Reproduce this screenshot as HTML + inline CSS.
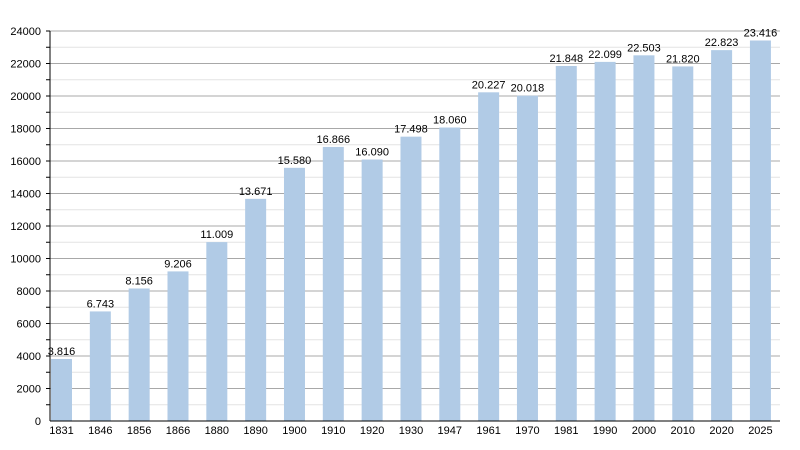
<html><body style="margin:0;background:#fff">
<svg width="800" height="450" xmlns="http://www.w3.org/2000/svg" font-family="Liberation Sans, Arial, sans-serif" font-size="11">
<g id="g"></g>
</svg>
<script>
const vals=[3816,6743,8156,9206,11009,13671,15580,16866,16090,17498,18060,20227,20018,21848,22099,22503,21820,22823,23416];
const yrs=[1831,1846,1856,1866,1880,1890,1900,1910,1920,1930,1947,1961,1970,1981,1990,2000,2010,2020,2025];
let s='';const y=v=>421-v*390/24000;
for(let v=1000;v<=24000;v+=1000){const yy=y(v);
 if(v%2000==0){s+=`<line x1="50" x2="780" y1="${yy}" y2="${yy}" stroke="#a8a8a8" stroke-width="1"/>`;}
 else s+=`<line x1="50" x2="780" y1="${yy}" y2="${yy}" stroke="#e4e4e4" stroke-width="1"/>`;
 s+=`<line x1="46" x2="50" y1="${yy}" y2="${yy}" stroke="#000"/>`;}
for(let v=0;v<=24000;v+=2000)s+=`<text x="41" y="${y(v)+4}" text-anchor="end">${v}</text>`;
vals.forEach((v,i)=>{const x=51+i*38.83;
 s+=`<rect x="${x}" y="${y(v)}" width="21" height="${421-y(v)}" fill="#b1cbe6"/>`;
 s+=`<text x="${x+10.5}" y="${y(v)-4}" text-anchor="middle">${(v/1000).toFixed(3)}</text>`;
 s+=`<text x="${x+10.5}" y="434" text-anchor="middle">${yrs[i]}</text>`;});
s+=`<line x1="50" x2="50" y1="31" y2="421" stroke="#000"/><line x1="50" x2="780" y1="421" y2="421" stroke="#000"/>`;
document.getElementById('g').innerHTML=s;
</script>
</body></html>
